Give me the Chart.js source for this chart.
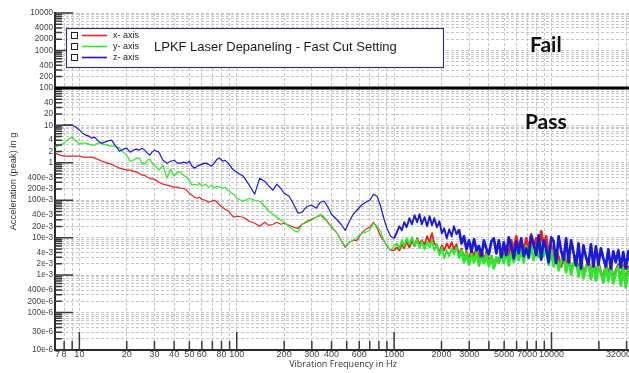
<!DOCTYPE html>
<html><head><meta charset="utf-8">
<script src="https://cdn.jsdelivr.net/npm/chart.js@4"></script>
<style>
html,body{margin:0;padding:0;background:#fff;overflow:hidden;width:629px;height:373px;}
#wrap{position:relative;width:660px;height:373px;}
</style></head><body>
<div id="wrap"><canvas id="c" width="660" height="373"></canvas></div>
<script>
// ---- data ----
const freqHz = [7,7.5,8,8.5,9,9.5,10,10.5,11,11.5,12,12.5,13,13.5,14,15,16,17,18,19,20,21,22,23,24,25,26,27,28,29,30,32,34,36,38,40,42,44,46,48,50,52,54,56,58,60,63,66,69,72,75,78,81,84,87,90,93,96,100,
110,120,130,140,150,160,170,180,190,200,215,230,245,260,280,300,320,340,360,380,400,430,460,490,520,550,580,620,660,700,740,780,820,860,900,950,1000,
1040,1080,1120,1160,1200,1250,1300,1350,1400,1450,1500,1560,1620,1680,1740,1800,
1870,1940,2010,2080,2160,2240,2320,2400,2490,2580,2680,2780,2880,2990,
3100,3220,3340,3460,3590,3720,3860,4000,4150,4300,4460,4630,4800,4980,
5160,5350,5550,5760,5970,6190,6420,6660,6910,7160,7430,7700,7990,8290,8600,8920,9250,9590,9950,
10320,10700,11100,11510,11940,12380,12840,13320,13810,14320,14850,15400,15970,16560,17170,17810,18470,19150,19860,20600,21360,22150,22970,23820,24700,25620,26570,27550,28570,29630,30730,31870];

const xAxisG = [1.81,1.60,1.50,1.50,1.50,1.50,1.50,1.41,1.41,1.41,1.41,1.33,1.25,1.17,1.10,
0.976,0.918,0.811,0.717,0.674,0.634,0.634,0.596,0.561,0.527,0.466,0.466,0.412,0.388,0.364,0.364,
0.303,0.268,0.252,0.237,0.223,0.223,0.209,0.209,0.185,0.154,0.136,0.12,0.113,0.12,0.106,
0.1,0.0885,0.094,0.1,0.0885,0.0735,0.065,0.0575,0.054,0.0478,0.0397,0.0351,0.0373,
0.0351,0.0274,0.0242,0.0201,0.0258,0.0214,0.0228,0.0258,0.0228,0.0242,0.0214,0.0189,0.0178,0.0228,0.0274,0.031,0.0351,0.0397,0.033,0.0258,0.0189,0.0139,0.0085,0.0055,0.0075,0.0085,0.0085,0.0131,0.0167,0.0189,0.0258,0.0178,0.0109,0.0085,0.0059,0.0046,0.0046,
0.0055,0.0046,0.0066,0.0052,0.0080,0.0055,0.0085,0.0059,0.0096,0.0070,0.0085,0.0066,0.0109,0.0075,0.0131,0.0070,
0.0059,0.0041,0.0062,0.0046,0.0070,0.0052,0.0075,0.0049,0.0066,0.0034,0.0049,0.0025,0.0041,0.0023,
0.0046,0.0030,0.0052,0.0026,0.0046,0.0022,0.0041,0.0021,0.0032,0.0017,0.0028,0.0022,0.0046,0.0028,
0.0059,0.0034,0.0085,0.0046,0.0109,0.0052,0.0085,0.0041,0.0096,0.0046,0.0123,0.0055,0.0096,0.0046,0.0148,0.0059,0.0109,0.0034,0.0062,
0.0022,0.0046,0.0030,0.0017,0.0041,0.0015,0.0034,0.00126,0.0020,0.0032,0.00111,0.0028,0.00092,0.0016,0.0026,0.00087,0.0023,0.00077,0.0022,0.0012,0.00072,0.0021,0.00082,0.0022,0.00068,0.0013,0.0019,0.00060,0.0018,0.00053,0.0017,0.00134];

const yAxisG = [2.61,2.95,3.34,4.28,4.84,3.78,3.14,3.34,3.34,3.14,2.95,2.95,3.34,3.34,3.14,
2.95,2.78,2.78,2.46,1.92,1.60,1.10,1.17,1.33,1.33,0.976,0.918,1.17,1.25,0.976,0.863,
0.634,0.863,0.388,0.674,0.438,0.561,0.561,0.466,0.412,0.322,0.252,0.268,0.252,0.285,0.237,
0.268,0.223,0.252,0.209,0.237,0.223,0.209,0.223,0.185,0.174,0.154,0.145,0.113,
0.094,0.113,0.1,0.094,0.0691,0.0508,0.0422,0.0351,0.0292,0.0258,0.0201,0.0157,0.0139,0.0228,0.0258,0.0292,0.0351,0.0422,0.0351,0.0242,0.0201,0.0139,0.0085,0.0059,0.0075,0.0085,0.0102,0.0131,0.0139,0.0157,0.0242,0.0201,0.0148,0.0085,0.0062,0.0046,0.0059,
0.0070,0.0052,0.0085,0.0059,0.0096,0.0066,0.0102,0.0062,0.0090,0.0052,0.0080,0.0049,0.0075,0.0055,0.0085,0.0046,
0.0066,0.0034,0.0055,0.0028,0.0046,0.0032,0.0052,0.0036,0.0055,0.0028,0.0046,0.0022,0.0038,0.0019,
0.0036,0.0022,0.0041,0.0018,0.0034,0.0021,0.0036,0.0017,0.0032,0.0015,0.0030,0.0022,0.0041,0.0021,
0.0046,0.0018,0.0041,0.0022,0.0049,0.0025,0.0046,0.0022,0.0059,0.0028,0.0062,0.0025,0.0055,0.0030,0.0070,0.0032,0.0052,0.0019,0.0046,
0.0017,0.0038,0.00134,0.0024,0.0032,0.00118,0.0030,0.00104,0.0020,0.0028,0.00092,0.0025,0.00082,0.0015,0.0022,0.00077,0.0021,0.00072,0.0019,0.0011,0.00064,0.0018,0.00068,0.0017,0.00060,0.0012,0.0017,0.00053,0.0016,0.00047,0.0014,0.00118];

const zAxisG = [8.4,9.5,10.1,10.1,10.1,8.95,7.44,6.19,5.47,5.14,4.55,4.84,4.02,3.56,3.34,
3.78,4.02,2.78,2.04,2.31,2.46,1.92,2.17,2.31,2.17,2.46,2.17,1.81,1.60,1.92,2.17,
1.92,1.17,0.976,1.10,1.17,0.976,0.976,1.04,0.976,1.10,0.811,0.717,0.811,0.863,0.918,
0.976,0.918,0.811,0.976,1.25,1.33,1.10,1.17,1.04,0.863,0.717,0.634,0.561,
0.438,0.252,0.145,0.388,0.322,0.237,0.185,0.268,0.209,0.154,0.128,0.0782,0.0449,0.0478,0.0691,0.0735,0.0611,0.0885,0.094,0.065,0.0422,0.031,0.0228,0.0157,0.0274,0.0422,0.054,0.0735,0.0885,0.1,0.145,0.128,0.0691,0.033,0.0178,0.0109,0.0096,
0.0139,0.0201,0.0157,0.0258,0.0189,0.033,0.0228,0.0397,0.0258,0.0422,0.0228,0.0351,0.0201,0.0373,0.0214,0.033,
0.0189,0.0274,0.0131,0.0178,0.0096,0.0167,0.0109,0.0201,0.0123,0.0167,0.0070,0.0109,0.0049,0.0085,
0.0043,0.0090,0.0046,0.0060,0.0032,0.0085,0.0050,0.0036,0.0080,0.0096,0.0038,0.0085,0.0030,0.0075,
0.0034,0.0102,0.0060,0.0028,0.0080,0.0038,0.0096,0.0032,0.0052,0.0030,0.0109,0.0070,0.0034,0.0116,0.0026,0.0085,0.0050,0.0022,0.0102,
0.0080,0.0021,0.0109,0.0045,0.0025,0.0096,0.0022,0.0085,0.0040,0.0018,0.0070,0.0015,0.0062,0.0030,0.0019,0.0066,0.0017,0.0059,0.0019,0.0052,0.0028,0.0017,0.0049,0.0015,0.0043,0.0022,0.0046,0.0016,0.0041,0.0015,0.0043,0.0019];

const seriesNames = ['x- axis', 'y- axis', 'z- axis'];
const seriesColors = ['#e02525', '#2de82d', '#1a1ad0'];
const chartTitle = 'LPKF Laser Depaneling - Fast Cut Setting';
const failLimit = 100;

const xTickLabels = [7,8,10,20,30,40,50,60,80,100,200,300,400,600,1000,2000,3000,5000,7000,10000,32000];
const yTickValues = [10000,4000,2000,1000,400,200,100,40,20,10,4,2,1,0.4,0.2,0.1,0.04,0.02,0.01,0.004,0.002,0.001,0.0004,0.0002,0.0001,0.00003,0.00001];
const yTickText = ['10000','4000','2000','1000','400','200','100','40','20','10','4','2','1','400e-3','200e-3','100e-3','40e-3','20e-3','10e-3','4e-3','2e-3','1e-3','400e-6','200e-6','100e-6','30e-6','10e-6'];

const X_MIN = 7, X_MAX = 32000, Y_MIN = 1e-5, Y_MAX = 1e4;

// grid positions: 1..9 x each decade
function decadeGrid(lo, hi, n0, n1) {
  const out = [];
  for (let n = n0; n <= n1; n++) for (let k = 1; k <= 9; k++) {
    const v = k * Math.pow(10, n);
    if (v >= lo * 0.9999 && v <= hi * 1.0001) out.push(v);
  }
  return out;
}
const xGrid = decadeGrid(X_MIN, X_MAX, 0, 4);
if (!xGrid.some(v => Math.abs(v - X_MAX) < 1)) xGrid.push(X_MAX);
const yGrid = decadeGrid(Y_MIN, Y_MAX, -5, 4);
const same = (a, b) => Math.abs(Math.log10(a) - Math.log10(b)) < 1e-6;
const isDecade = v => Math.abs(Math.log10(v) - Math.round(Math.log10(v))) < 1e-6;

const decor = {
  id: 'decor',
  afterDraw(chart) {
    const {ctx, chartArea: a, scales: {x, y}} = chart;
    ctx.save();
    // inward tick marks
    ctx.strokeStyle = '#3a3a3a';
    ctx.lineWidth = 1.5;
    ctx.beginPath();
    x.ticks.forEach(t => {
      if (t.value <= X_MIN * 1.0001 || t.value >= X_MAX * 0.9999) return;
      const px = x.getPixelForValue(t.value);
      const len = isDecade(t.value) ? 18 : 9;
      ctx.moveTo(px, a.bottom); ctx.lineTo(px, a.bottom - len);
    });
    y.ticks.forEach(t => {
      const py = y.getPixelForValue(t.value);
      const len = isDecade(t.value) ? 18 : 7;
      ctx.moveTo(a.left, py); ctx.lineTo(a.left + len, py);
    });
    ctx.stroke();
    // pass / fail limit
    const yl = y.getPixelForValue(failLimit);
    ctx.strokeStyle = '#000'; ctx.lineWidth = 3;
    ctx.beginPath(); ctx.moveTo(a.left, yl); ctx.lineTo(a.right, yl); ctx.stroke();
    // Fail / Pass labels
    ctx.fillStyle = '#111';
    ctx.font = 'bold 21px Lato, "Liberation Sans", sans-serif';
    ctx.textAlign = 'center'; ctx.textBaseline = 'middle';
    const lx = x.getPixelForValue(9200);
    ctx.fillText('Fail', lx, y.getPixelForValue(1400));
    ctx.fillText('Pass', lx, y.getPixelForValue(12));
    // legend box
    const bx = 66.5, by = 28.5, bw = 377, bh = 39;
    ctx.fillStyle = '#fff'; ctx.fillRect(bx, by, bw, bh);
    ctx.strokeStyle = '#34346e'; ctx.lineWidth = 1.2; ctx.strokeRect(bx, by, bw, bh);
    const rows = [35.5, 46.5, 57.5];
    ctx.textAlign = 'left';
    ctx.font = '9px "Liberation Sans", Arial, sans-serif';
    rows.forEach((ry, i) => {
      ctx.strokeStyle = '#222'; ctx.lineWidth = 1;
      ctx.strokeRect(71.5, ry - 3, 6, 6);
      ctx.strokeStyle = seriesColors[i]; ctx.lineWidth = 1.6;
      ctx.beginPath(); ctx.moveTo(82, ry); ctx.lineTo(107, ry); ctx.stroke();
      ctx.fillStyle = '#222';
      ctx.fillText(seriesNames[i], 113, ry);
    });
    ctx.font = '13px "Liberation Sans", Arial, sans-serif';
    ctx.fillStyle = '#1a1a1a';
    ctx.fillText(chartTitle, 154, 47);
    ctx.restore();
  }
};

const mk = (vals, i, order) => ({
  label: seriesNames[i],
  data: freqHz.map((f, j) => ({x: f, y: vals[j]})),
  borderColor: seriesColors[i],
  backgroundColor: seriesColors[i],
  borderWidth: 1.2,
  segment: { borderWidth: c => c.p0.parsed.x >= 2500 ? 2.7 : (c.p0.parsed.x >= 1000 ? 1.9 : 1.2) },
  borderJoinStyle: 'round',
  pointRadius: 0,
  tension: 0,
  fill: false,
  order: order
});

const gridDash = c => (c && c.type === 'tick') ? [3, 2] : [];

new Chart(document.getElementById('c'), {
  type: 'line',
  data: { datasets: [mk(xAxisG, 0, 2), mk(yAxisG, 1, 1), mk(zAxisG, 2, 0)] },
  options: {
    responsive: false,
    animation: false,
    devicePixelRatio: 1,
    layout: { padding: { top: 13, right: 29, left: 0, bottom: 0 } },
    plugins: { legend: { display: false }, tooltip: { enabled: false } },
    scales: {
      x: {
        type: 'logarithmic', min: X_MIN, max: X_MAX, position: 'bottom',
        afterBuildTicks: s => { s.ticks = xGrid.map(v => ({value: v})); },
        afterFit: s => { s.height = 23; },
        ticks: {
          autoSkip: false, maxRotation: 0, minRotation: 0, padding: 0, align: 'inner',
          color: '#444', font: { family: '"Liberation Sans", Arial, sans-serif', size: 9, lineHeight: 1 },
          callback: v => { const m = xTickLabels.find(l => same(l, v)); return m !== undefined ? String(m) : ''; }
        },
        grid: { color: '#c6c6c6', lineWidth: 1, drawTicks: false },
        border: { display: true, color: '#2a2a2a', width: 2, dash: gridDash },
        title: { display: true, text: 'Vibration Frequency in Hz', color: '#333',
          font: { family: '"Open Sans", sans-serif', size: 9 }, padding: { top: 0, bottom: 3.6 } }
      },
      y: {
        type: 'logarithmic', min: Y_MIN, max: Y_MAX, position: 'left',
        afterBuildTicks: s => { s.ticks = yGrid.map(v => ({value: v})); },
        afterFit: s => { s.width = 55; },
        ticks: {
          autoSkip: false, padding: 2,
          color: '#444', font: { family: '"Liberation Sans", Arial, sans-serif', size: 8.2 },
          callback: v => { const i = yTickValues.findIndex(l => same(l, v)); return i >= 0 ? yTickText[i] : ''; }
        },
        grid: { color: '#c6c6c6', lineWidth: 1, drawTicks: false },
        border: { display: true, color: '#2a2a2a', width: 2, dash: gridDash },
        title: { display: true, text: 'Acceleration (peak) in g', color: '#333',
          font: { family: '"Liberation Sans", Arial, sans-serif', size: 9.3 }, padding: { top: 7.4, bottom: 0 } }
      }
    }
  },
  plugins: [decor]
});
</script>
</body></html>
